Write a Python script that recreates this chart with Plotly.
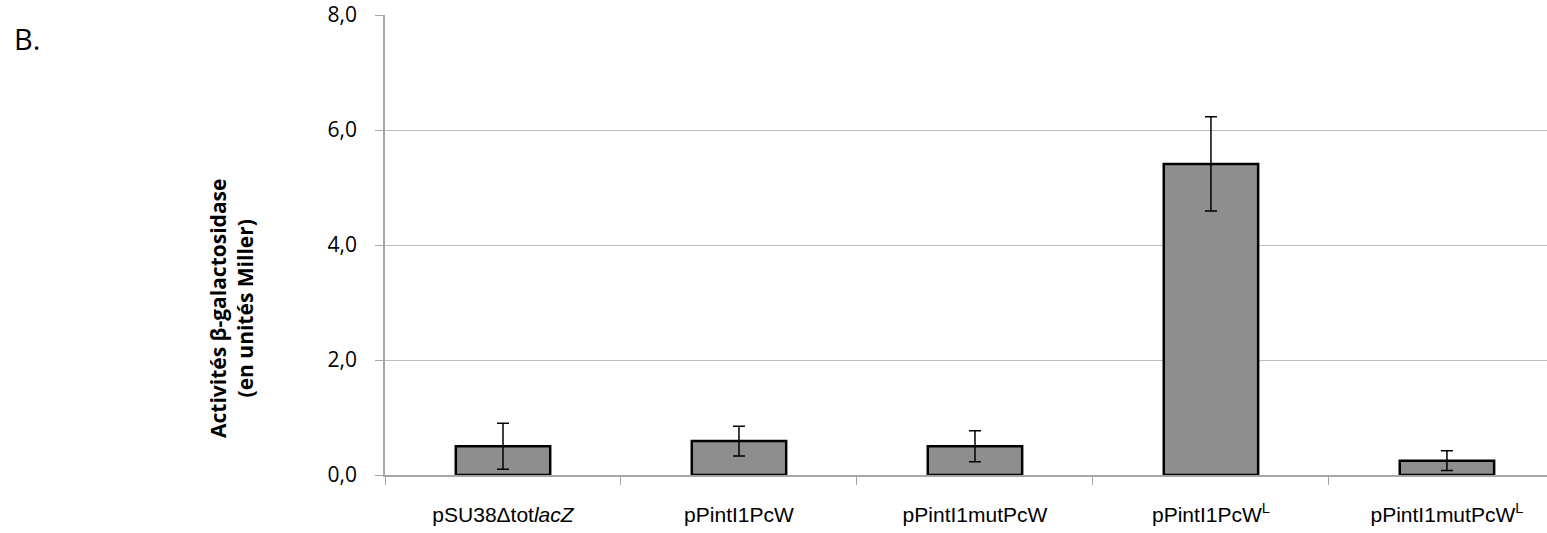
import plotly.graph_objects as go

categories = ["pSU38Δtot<i>lacZ</i>", "pPintI1PcW", "pPintI1mutPcW",
              "pPintI1PcW<sup>L</sup>", "pPintI1mutPcW<sup>L</sup>"]
values = [0.50, 0.59, 0.50, 5.41, 0.25]
errors = [0.40, 0.26, 0.27, 0.82, 0.17]
y_ticks = [0, 2, 4, 6, 8]

fig = go.Figure()
fig.add_trace(go.Bar(
    x=categories, y=values,
    marker=dict(color="#8e8e8e", line=dict(color="black", width=2.5)),
    error_y=dict(type="data", array=errors, visible=True,
                 color="black", thickness=1.5, width=6),
    width=0.4,
))

fig.update_layout(
    width=1547, height=533,
    margin=dict(l=385, r=0, t=15, b=58),
    plot_bgcolor="white", paper_bgcolor="white",
    separators=", ",
    showlegend=False,
    xaxis=dict(
        type="category", range=[-0.5, 4.424],
        tickson="boundaries", ticks="outside", ticklen=8, tickcolor="#a6a6a6",
        showline=True, linecolor="#a6a6a6", linewidth=1.5,
        showgrid=False,
        tickfont=dict(family="Liberation Sans, Arial", size=21, color="black"),
        ticklabelstandoff=20,
    ),
    yaxis=dict(
        range=[0, 8], tickvals=y_ticks, tickformat=".1f",
        ticks="outside", ticklen=8, tickcolor="#a6a6a6",
        showline=True, linecolor="#a6a6a6", linewidth=1.5,
        showgrid=True, gridcolor="#bdbdbd", gridwidth=1.2,
        zeroline=False,
        tickfont=dict(family="Open Sans", size=21, color="black"),
        ticklabelstandoff=14,
    ),
    annotations=[
        dict(text="<b>Activités β-galactosidase<br>(en unités Miller)</b>",
             xref="paper", yref="paper", x=-(385 - 231) / 1162, y=1 - (309 - 15) / 460,
             xanchor="center", yanchor="middle", textangle=-90, showarrow=False,
             font=dict(family="Open Sans", size=21, color="black")),
        dict(text="B.", xref="paper", yref="paper",
             x=-(385 - 12) / 1162, y=1 - (38 - 15) / 460,
             xanchor="left", yanchor="middle", showarrow=False,
             font=dict(family="Open Sans", size=29, color="black")),
    ],
)

fig.write_html("out.html")
